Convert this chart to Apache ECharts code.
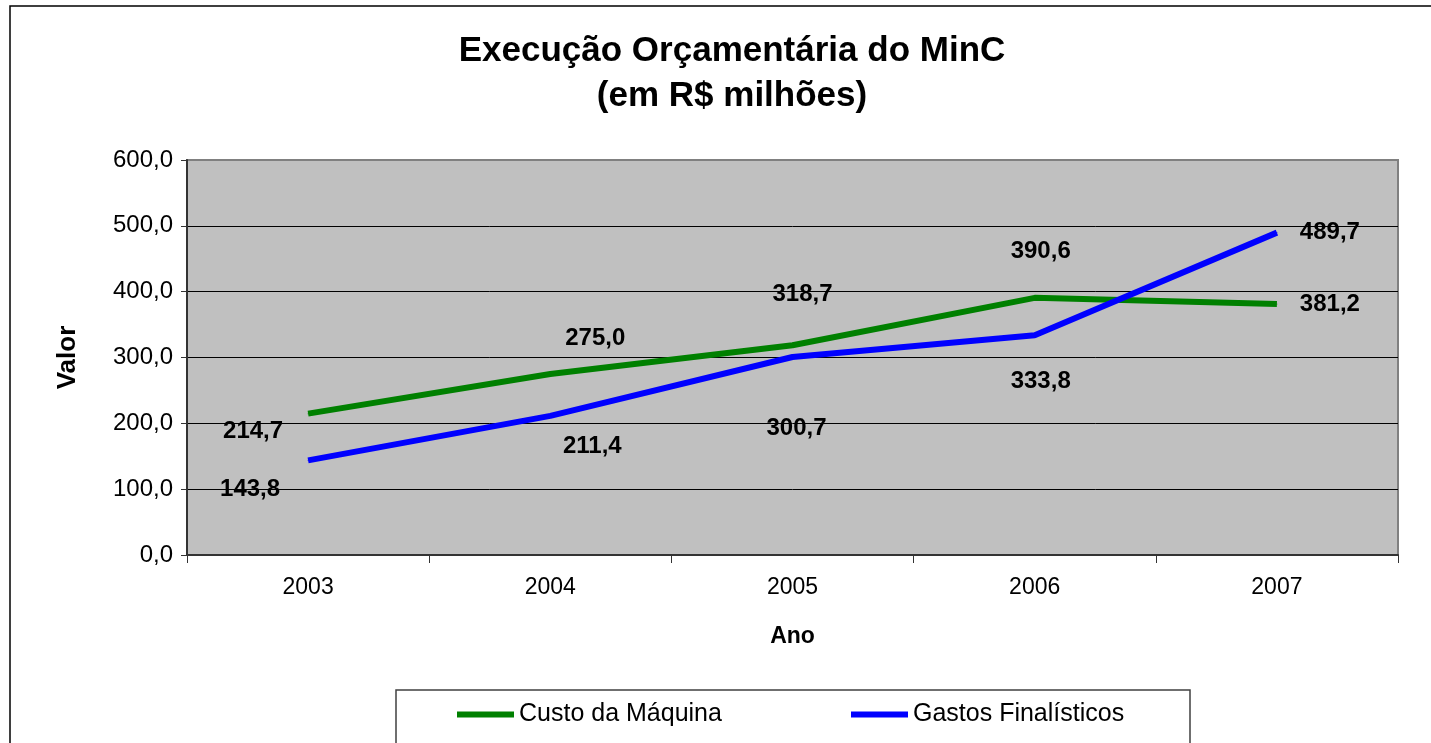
<!DOCTYPE html>
<html>
<head>
<meta charset="utf-8">
<title>Execução Orçamentária do MinC</title>
<script src="https://cdn.jsdelivr.net/npm/echarts@6/dist/echarts.min.js"></script>
<style>
	html, body { margin:0; padding:0; background:#fff; }
	#chart { width:1431px; height:743px; }
</style>
</head>
<body>
<div id="chart"></div>
<script>
	// dados
	var anos = ['2003', '2004', '2005', '2006', '2007'];
	var custoMaquina = [214.7, 275.0, 318.7, 390.6, 381.2];
	var gastosFinalisticos = [143.8, 211.4, 300.7, 333.8, 489.7];
	var nomesSeries = ['Custo da Máquina', 'Gastos Finalísticos'];

	// deslocamento dos rotulos em relacao ao ponto
	var offsetCusto = [[-55, 18], [45, -36], [10, -51], [6, -46], [53, 0]];
	var offsetGastos = [[-58, 29], [42, 31], [4, 71], [6, 46], [53, 0]];

	var fonte = 'Liberation Sans, Arial, sans-serif';

	function fmt(v)
	{
		return v.toFixed(1).replace('.', ',');
	}

	function montaDados(valores, offsets)
	{
		var lista = [];
		valores.forEach(function(v, i){
			lista.push({
				value: v,
				label: { offset: offsets[i] }
			});
		});
		return lista;
	}

	function serie(nome, valores, offsets, cor)
	{
		return {
			name: nome,
			type: 'line',
			data: montaDados(valores, offsets),
			symbol: 'circle',
			symbolSize: 1,
			itemStyle: { color: cor },
			lineStyle: { color: cor, width: 6 },
			label: {
				show: true,
				position: 'inside',
				fontFamily: fonte,
				fontSize: 24,
				fontWeight: 'bold',
				color: '#000',
				formatter: function(p){ return fmt(p.value); }
			},
			animation: false
		};
	}

	var option = {
		backgroundColor: '#fff',
		title: {
			text: 'Execução Orçamentária do MinC\n(em R$ milhões)',
			left: 727,
			textAlign: 'center',
			top: 24,
			textStyle: {
				fontFamily: fonte,
				fontSize: 35,
				fontWeight: 'bold',
				color: '#000',
				lineHeight: 45
			}
		},
		legend: [
			{
				data: [nomesSeries[0]],
				left: 457, top: 702, padding: 0,
				icon: 'rect', itemWidth: 57, itemHeight: 6, itemGap: 7,
				textStyle: { fontFamily: fonte, fontSize: 25, color: '#000' }
			},
			{
				data: [nomesSeries[1]],
				left: 851, top: 702, padding: 0,
				icon: 'rect', itemWidth: 57, itemHeight: 6, itemGap: 7,
				textStyle: { fontFamily: fonte, fontSize: 25, color: '#000' }
			}
		],
		grid: {
			left: 187, top: 160, right: 33, bottom: 188,
			show: true,
			backgroundColor: '#c0c0c0',
			borderColor: '#808080',
			borderWidth: 2
		},
		xAxis: {
			type: 'category',
			data: anos,
			boundaryGap: true,
			name: 'Ano',
			nameLocation: 'middle',
			nameGap: 70,
			nameTextStyle: { fontFamily: fonte, fontSize: 23, fontWeight: 'bold', color: '#000' },
			axisLine: { lineStyle: { color: '#333', width: 2 } },
			axisTick: { show: true, length: 8, lineStyle: { color: '#333' } },
			axisLabel: { fontFamily: fonte, fontSize: 23, color: '#000', margin: 21 },
			splitLine: { show: false }
		},
		yAxis: {
			type: 'value',
			min: 0, max: 600, interval: 100,
			name: 'Valor',
			nameLocation: 'middle',
			nameGap: 106,
			nameTextStyle: { fontFamily: fonte, fontSize: 26, fontWeight: 'bold', color: '#000' },
			axisLine: { show: true, lineStyle: { color: '#333', width: 2 } },
			axisTick: { show: true, length: 6, lineStyle: { color: '#333' } },
			axisLabel: {
				fontFamily: fonte, fontSize: 24, color: '#000', margin: 14,
				formatter: function(v){ return fmt(v); }
			},
			splitLine: { show: true, showMaxLine: false, lineStyle: { color: '#000', width: 1 } }
		},
		graphic: [
			{
				type: 'rect',
				shape: { x: 10, y: 6, width: 1500, height: 800 },
				style: { fill: null, stroke: '#000', lineWidth: 1.5 },
				silent: true, z: -10
			},
			{
				type: 'rect',
				shape: { x: 396, y: 690, width: 794, height: 80 },
				style: { fill: '#fff', stroke: '#404040', lineWidth: 1.5 },
				silent: true, z: -5
			}
		],
		series: [
			serie(nomesSeries[0], custoMaquina, offsetCusto, '#008000'),
			serie(nomesSeries[1], gastosFinalisticos, offsetGastos, '#0000ff')
		]
	};

	var myChart = echarts.init(document.getElementById('chart'));
	myChart.setOption(option);
</script>
</body>
</html>
